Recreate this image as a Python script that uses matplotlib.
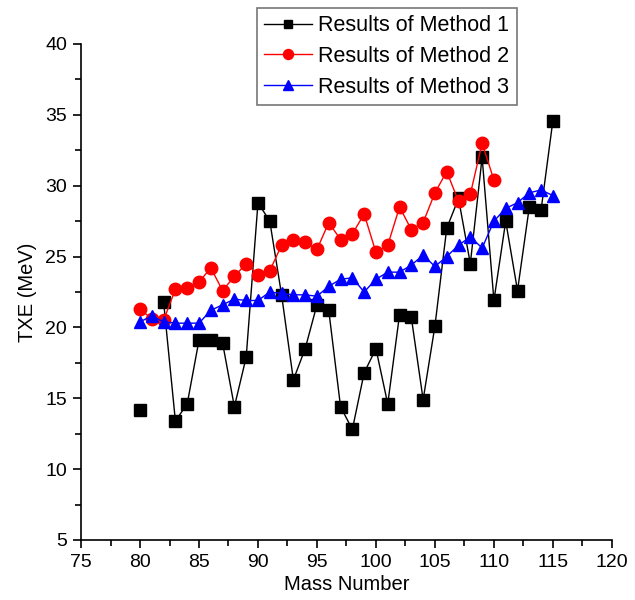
import numpy as np
import matplotlib
matplotlib.use("Agg")
import matplotlib.pyplot as plt
from matplotlib.ticker import MultipleLocator

plt.rcParams['font.family'] = ['Liberation Sans', 'DejaVu Sans']

# mass numbers
mass = np.arange(80, 116)

# Method 1 (no value at A=81)
m1 = [14.2, np.nan, 21.8, 13.4, 14.6, 19.1, 19.1, 18.9, 14.4, 17.9,
      28.8, 27.5, 22.3, 16.3, 18.5, 21.6, 21.2, 14.4, 12.8, 16.8,
      18.5, 14.6, 20.9, 20.7, 14.9, 20.1, 27.0, 29.1, 24.5, 32.0,
      21.9, 27.5, 22.6, 28.5, 28.3, 34.6]

# Method 2 (A = 80..110)
mass2 = np.arange(80, 111)
m2 = [21.3, 20.6, 20.5, 22.7, 22.8, 23.2, 24.2, 22.6, 23.6, 24.5,
      23.7, 24.0, 25.8, 26.2, 26.0, 25.5, 27.4, 26.2, 26.6, 28.0,
      25.3, 25.8, 28.5, 26.9, 27.4, 29.5, 31.0, 28.9, 29.4, 33.0,
      30.4]

# Method 3
m3 = [20.4, 20.8, 20.4, 20.3, 20.3, 20.3, 21.2, 21.6, 22.0, 21.9,
      21.9, 22.5, 22.4, 22.3, 22.3, 22.2, 22.9, 23.4, 23.5, 22.5,
      23.4, 23.9, 23.9, 24.4, 25.1, 24.3, 25.0, 25.8, 26.4, 25.6,
      27.5, 28.4, 28.8, 29.5, 29.7, 29.3]

fig = plt.figure(figsize=(6.35, 6.0), dpi=100)
ax = fig.add_axes([0.1276, 0.1, 0.836, 0.8267])

ax.plot(mass, m1, color='black', lw=1, marker='s', ms=8,
        label='Results of Method 1')
ax.plot(mass2, m2, color='red', lw=1, marker='o', ms=9,
        label='Results of Method 2')
ax.plot(mass, m3, color='blue', lw=1, marker='^', ms=9,
        label='Results of Method 3')

ax.set_xlim(75, 120)
ax.set_ylim(5, 40)
ax.xaxis.set_major_locator(MultipleLocator(5))
ax.xaxis.set_minor_locator(MultipleLocator(2.5))
ax.yaxis.set_major_locator(MultipleLocator(5))
ax.yaxis.set_minor_locator(MultipleLocator(2.5))
ax.tick_params(which='major', direction='out', length=6, width=1.2,
               labelsize=14, pad=4)
ax.tick_params(which='minor', direction='out', length=4, width=1.2)
ax.spines['top'].set_visible(False)
ax.spines['right'].set_visible(False)
ax.spines['left'].set_linewidth(1.2)
ax.spines['bottom'].set_linewidth(1.2)

ax.set_xlabel('Mass Number', fontsize=14.5, labelpad=3)
ax.set_ylabel('TXE (MeV)', fontsize=14.5, labelpad=6)

leg = ax.legend(loc='upper left', bbox_to_anchor=(0.331, 1.073), fontsize=15.5,
                frameon=True, fancybox=False, edgecolor='#555555',
                markerscale=0.8, handlelength=2.2, borderpad=0.35,
                labelspacing=0.45, handletextpad=0.3, borderaxespad=0)
leg.get_frame().set_linewidth(1.2)

fig.savefig('out.png', dpi=100)
